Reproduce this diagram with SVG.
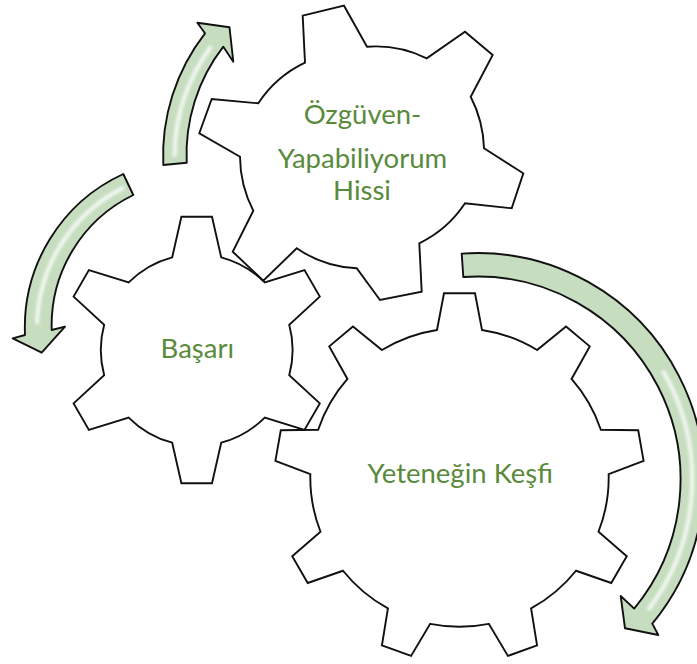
<svg xmlns="http://www.w3.org/2000/svg" width="697" height="664" viewBox="0 0 697 664">
<defs>
<filter id="blur" x="-20%" y="-20%" width="140%" height="140%"><feGaussianBlur stdDeviation="1.6"/></filter>
<style>
.gear{fill:none;stroke:#111;stroke-width:1.9;stroke-linejoin:miter}
.arrow{fill:#c6ddc0;stroke:#111;stroke-width:1.9;stroke-linejoin:round}
.hl{fill:none;stroke:#ffffff;stroke-width:4;stroke-linecap:round;opacity:0.8;filter:url(#blur)}
.lbl{font-family:Lato,"Open Sans","Liberation Sans",sans-serif;font-size:27.5px;fill:#5a8a3c;text-anchor:middle}
</style>
</defs>
<rect width="697" height="664" fill="#ffffff"/>
<g id="connectors">
<g id="arrow-top">
<path class="arrow" d="M163.3,165 A199,199 0 0 1 205,33.3 L197.3,22.7 L229.5,27.3 L233.3,61.7 L223.3,46.7 A176,176 0 0 0 186.7,162.7 Z"/>
<path class="hl" d="M174.5,155 A187.5,187.5 0 0 1 210.3,47.8"/>
</g>
<g id="arrow-left">
<path class="arrow" d="M123.3,174 A169,169 0 0 0 25,335 L12.7,338.3 L41.7,352.7 L65,326.7 L51.7,330 A145,145 0 0 1 133.3,195 Z"/>
<path class="hl" d="M122.7,188.1 A157,157 0 0 0 37.1,322.5"/>
</g>
<g id="arrow-right">
<path class="arrow" d="M461.7,253.6 A226.5,226.5 0 0 1 652.3,623.6 L658.3,635 L625,628.3 L620.7,596 L634.2,608.6 A203,203 0 0 0 463.3,277 Z"/>
<path class="hl" d="M663.5,372.1 A214.75,214.75 0 0 1 649,608.7"/>
</g>
</g>
<g id="gear-ozguven">
<path class="gear" d="M302.7,15.7 L344,5.7 L367,46.7 A115,115 0 0 1 426.7,58.3 L465,31.7 L492.7,55 L470.7,96.7 A120,120 0 0 1 484,148.3 L523.3,173.3 L511.7,208.3 L465,203.3 A115,115 0 0 1 419.3,243.3 L421.7,291.7 L380,300 L356.7,268.3 A115,115 0 0 1 296.7,248.3 L263.3,280.7 L232.7,251.7 L253.3,210.7 A120,120 0 0 1 240,156.7 L199.3,133.3 L211.7,99 L258.3,103.3 A115,115 0 0 1 305,62.7 Z"/>
<text class="lbl" x="362.5" y="124">Özgüven-</text>
<text class="lbl" x="362.5" y="168">Yapabiliyorum</text>
<text class="lbl" x="362" y="200">Hissi</text>
</g>
<g id="gear-basari">
<path class="gear" d="M172.2,257.3 L181.4,216.7 L212,216.7 L221.2,257.3 A95.9,95.9 0 0 1 264.73,282.43 L304.49,270.1 L319.79,296.6 L289.23,324.87 A95.9,95.9 0 0 1 289.23,375.13 L319.79,403.4 L304.49,429.9 L264.73,417.57 A95.9,95.9 0 0 1 221.2,442.7 L212,483.3 L181.4,483.3 L172.2,442.7 A95.9,95.9 0 0 1 128.67,417.57 L88.91,429.9 L73.61,403.4 L104.17,375.13 A95.9,95.9 0 0 1 104.17,324.87 L73.61,296.6 L88.91,270.1 L128.67,282.43 A95.9,95.9 0 0 1 172.2,257.3 Z"/>
<text class="lbl" x="197.3" y="358.3">Başarı</text>
</g>
<g id="gear-yetenek">
<path class="gear" d="M437,330 L444,293.3 L475,293.3 L482,330 A149.2,149.2 0 0 1 537.07,350.05 L566.03,326.44 L589.77,346.36 L571.55,378.97 A149.2,149.2 0 0 1 600.85,429.73 L638.21,430.26 L643.59,460.78 L608.67,474.05 A149.2,149.2 0 0 1 598.49,531.76 L626.77,556.18 L611.27,583.02 L575.99,570.74 A149.2,149.2 0 0 1 531.09,608.41 L537.07,645.29 L507.93,655.89 L488.81,623.81 A149.2,149.2 0 0 1 430.19,623.81 L411.07,655.89 L381.93,645.29 L387.91,608.41 A149.2,149.2 0 0 1 343.01,570.74 L307.73,583.02 L292.23,556.18 L320.51,531.76 A149.2,149.2 0 0 1 310.33,474.05 L275.41,460.78 L280.79,430.26 L318.15,429.73 A149.2,149.2 0 0 1 347.45,378.97 L329.23,346.36 L352.97,326.44 L381.93,350.05 A149.2,149.2 0 0 1 437,330 Z"/>
<text class="lbl" x="460.3" y="482.7">Yeteneğin Keşfi</text>
</g>
</svg>
